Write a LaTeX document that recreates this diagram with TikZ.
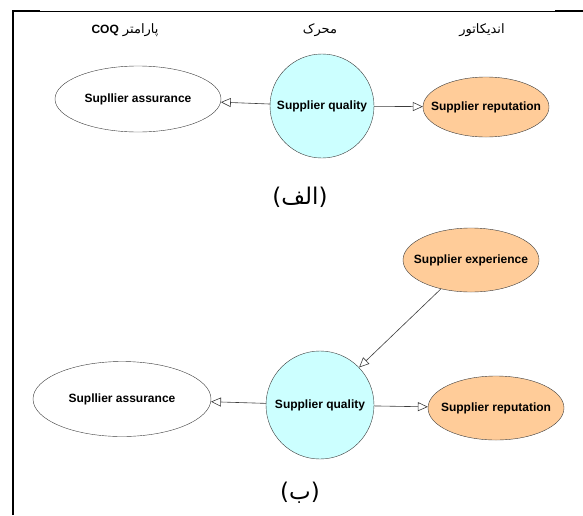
\documentclass[tikz,border=0pt]{standalone}
\usepackage{fontspec}
\setmainfont{Liberation Sans}
\newfontfamily\arabicfont[Script=Arabic]{DejaVu Sans}
\TeXXeTstate=1
\usepackage{xcolor}
\usepackage{tikz}
\usetikzlibrary{shapes.geometric, arrows.meta}
\definecolor{constructcolor}{RGB}{204,255,255}
\definecolor{indicatorcolor}{RGB}{255,204,153}
\definecolor{flowcolor}{RGB}{60,60,60}

\begin{document}
\begin{tikzpicture}[
    x=1pt, y=-1pt,
    factor/.style={draw=flowcolor, ellipse, fill=white, inner xsep=-20pt, inner ysep=-10pt, font=\fontsize{12}{14}\selectfont\bfseries},
    indicator/.style={factor, fill=indicatorcolor},
    construct/.style={draw=flowcolor, circle, fill=constructcolor, inner sep=-10pt, font=\fontsize{12}{14}\selectfont\bfseries},
    header/.style={font=\fontsize{13}{15}\selectfont},
    caption/.style={font=\fontsize{23}{27}\selectfont},
    arrow/.style={-{Triangle[open, length=10pt, width=9pt]}, semithick, flowcolor}
]
    \useasboundingbox (0,0) rectangle (583,515);

    % Frame
    \draw[line width=2pt] (13,515) -- (13,11) -- (40,11);
    \draw[thin] (40,11) -- (555,11);
    \draw[line width=2pt] (555,11) -- (583,11);

    % Column headers
    \node[header] (hcoq) at (125,30) {\arabicfont\beginR پارامتر \beginL{\normalfont\fontsize{12}{14}\selectfont\bfseries COQ}\endL\endR};
    \node[header] (hdriver) at (320,30) {\arabicfont\beginR محرک\endR};
    \node[header] (hindicator) at (482,30) {\arabicfont\beginR اندیکاتور\endR};

    % Part (a)
    \node[factor, minimum width=166pt, minimum height=66pt] (sa1) at (138,99) {Supllier assurance};
    \node[construct, minimum size=104pt] (sq1) at (322,106) {Supplier quality};
    \node[indicator, minimum width=126pt, minimum height=60pt] (sr1) at (486,107) {Supplier reputation};
    \draw[arrow] (sq1) -- (sa1);
    \draw[arrow] (sq1) -- (sr1);
    \node[caption] (capa) at (300,197) {\arabicfont\beginR(الف)\endR};

    % Part (b)
    \node[indicator, minimum width=136pt, minimum height=64pt] (se2) at (471,260) {Supplier experience};
    \node[construct, minimum size=108pt] (sq2) at (320,405) {Supplier quality};
    \node[factor, minimum width=178pt, minimum height=75pt] (sa2) at (122,399) {Supllier assurance};
    \node[indicator, minimum width=136pt, minimum height=64pt] (sr2) at (496,408) {Supplier reputation};
    \draw[arrow] (se2) -- (sq2);
    \draw[arrow] (sq2) -- (sa2);
    \draw[arrow] (sq2) -- (sr2);
    \node[caption] (capb) at (300,493) {\arabicfont\beginR(ب)\endR};
\end{tikzpicture}
\end{document}
